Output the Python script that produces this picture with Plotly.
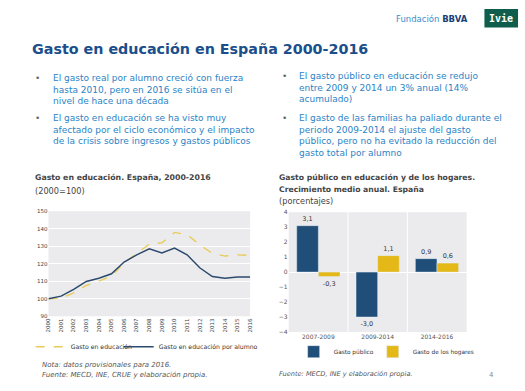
import plotly.graph_objects as go

W, H = 525, 391
def px(x): return x / W
def py(y): return 1 - y / H

years = list(range(2000, 2017))
gasto_educacion = [100, 100.4, 103.4, 107.6, 110.1, 112.9, 120.5, 125.9, 131.2, 132.0,
                   137.9, 136.6, 130.9, 125.9, 124.4, 125.1, 124.7]
gasto_por_alumno = [100, 101.5, 105.4, 109.9, 111.7, 114.3, 121.0, 125.1, 128.6, 126.2,
                    129.0, 125.1, 117.7, 112.7, 111.7, 112.5, 112.5]

periodos = ["2007-2009", "2009-2014", "2014-2016"]
gasto_publico = [3.1, -3.0, 0.9]
gasto_hogares = [-0.3, 1.1, 0.6]

BLUE = "#1f4e79"
YELLOW = "#e3b817"
LINE_BLUE = "#2c4a6e"
LINE_YEL = "#e8cc5a"
FONT = "DejaVu Sans"

fig = go.Figure()

fig.add_trace(go.Scatter(x=years, y=gasto_educacion, mode="lines", name="Gasto en educación",
                         line=dict(color=LINE_YEL, width=1.4, dash="dash"), showlegend=True,
                         xaxis="x", yaxis="y", legend="legend"))
fig.add_trace(go.Scatter(x=years, y=gasto_por_alumno, mode="lines", name="Gasto en educación por alumno",
                         line=dict(color=LINE_BLUE, width=1.5), showlegend=True,
                         xaxis="x", yaxis="y", legend="legend3"))

fmt = lambda v: f"{v:.1f}".replace(".", ",")
fig.add_trace(go.Bar(x=periodos, y=gasto_publico, name="Gasto público", marker_color=BLUE,
                     text=[fmt(v) for v in gasto_publico], textposition="outside",
                     textfont=dict(size=6.5, color="#333"), cliponaxis=False, showlegend=True,
                     xaxis="x2", yaxis="y2", legend="legend2"))
fig.add_trace(go.Bar(x=periodos, y=gasto_hogares, name="Gasto de los hogares", marker_color=YELLOW,
                     text=[fmt(v) for v in gasto_hogares], textposition="outside",
                     textfont=dict(size=6.5, color="#333"), cliponaxis=False, showlegend=True,
                     xaxis="x2", yaxis="y2", legend="legend4"))

PLOT_BG = "#ebebed"

def leg(x, y, size):
    return dict(orientation="h", x=px(x), y=py(y), xanchor="left", yanchor="middle",
                font=dict(size=size, color="#333"), bgcolor="rgba(0,0,0,0)",
                itemwidth=30, tracegroupgap=0, visible=True)

fig.update_layout(
    width=W, height=H, margin=dict(l=0, r=0, t=0, b=0),
    paper_bgcolor="white", plot_bgcolor=PLOT_BG,
    font=dict(family=FONT, color="#444"),
    showlegend=True,
    barmode="group", bargap=0.27, bargroupgap=0,
    separators=",.",
    xaxis=dict(domain=[px(46), px(250)], anchor="y", range=[2000, 2016],
               tickvals=years, ticktext=[str(y) for y in years], tickangle=-90,
               tickfont=dict(size=5.5, color="#444"), showgrid=False, zeroline=False,
               showline=False, ticks=""),
    yaxis=dict(domain=[py(318), py(211)], anchor="x", range=[90, 150], dtick=10,
               tickfont=dict(size=5.5, color="#444"), gridcolor="white", gridwidth=1,
               zeroline=False, showline=False, ticks=""),
    xaxis2=dict(domain=[px(289), px(469)], anchor="y2", showgrid=False,
                tickfont=dict(size=6, color="#555"), showline=False, ticks=""),
    yaxis2=dict(domain=[py(334), py(212)], anchor="x2", range=[-4, 4], dtick=1,
                tickfont=dict(size=6, color="#555"), showgrid=False,
                zeroline=True, zerolinecolor="white", zerolinewidth=1, showline=False, ticks=""),
    legend=leg(28, 349, 6.2),
    legend3=leg(117, 349, 6.2),
    legend2=leg(294, 354, 5.8),
    legend4=leg(374, 354, 5.8),
)

# vertical separators between bar categories
for xv in [0.5, 1.5]:
    fig.add_shape(type="line", xref="x2", yref="y2 domain", x0=xv, x1=xv, y0=0, y1=1,
                  line=dict(color="white", width=1), layer="below")

ann = []
def text(x, y, t, size, color, bold=False, italic=False, xanchor="left", yanchor="middle", family=FONT):
    if bold: t = f"<b>{t}</b>"
    if italic: t = f"<i>{t}</i>"
    ann.append(dict(x=px(x), y=py(y), xref="paper", yref="paper", text=t, showarrow=False,
                    xanchor=xanchor, yanchor=yanchor, align="left",
                    font=dict(size=size, color=color, family=family)))

TITLE_BLUE = "#1b4f8c"
BULLET_BLUE = "#2b83c6"

# header
text(396, 15, "Fundación <b><span style='color:#1a3f7a'>BBVA</span></b>", 8.5, "#3a8ccc")
fig.add_shape(type="rect", xref="paper", yref="paper", x0=px(487), x1=px(521), y0=py(24), y1=py(5),
              fillcolor="#0f5e4d", line=dict(width=0))
text(504, 14.5, "Ivie", 10, "white", bold=True, xanchor="center", family="DejaVu Sans Mono")

# title
text(27, 46, "Gasto en educación en España 2000-2016", 14.3, TITLE_BLUE, bold=True)

# bullets left
text(30, 75, "•", 9, "#666")
text(49, 87, "El gasto real por alumno creció con fuerza<br>hasta 2010, pero en 2016 se sitúa en el<br>nivel de hace una década", 9, BULLET_BLUE)
text(30, 116, "•", 9, "#666")
text(49, 128, "El gasto en educación se ha visto muy<br>afectado por el ciclo económico y el impacto<br>de la crisis sobre ingresos y gastos públicos", 9, BULLET_BLUE)
# bullets right
text(280, 73, "•", 9, "#666")
text(297, 85, "El gasto público en educación se redujo<br>entre 2009 y 2014 un 3% anual (14%<br>acumulado)", 9, BULLET_BLUE)
text(280, 116, "•", 9, "#666")
text(297, 134, "El gasto de las familias ha paliado durante el<br>periodo 2009-2014 el ajuste del gasto<br>público, pero no ha evitado la reducción del<br>gasto total por alumno", 9, BULLET_BLUE)

# chart subtitles
text(30, 177, "Gasto en educación. España, 2000-2016", 7.8, "#444", bold=True)
text(30, 190, "(2000=100)", 8.2, "#444")
text(277, 177, "Gasto público en educación y de los hogares.", 7.7, "#444", bold=True)
text(277, 189, "Crecimiento medio anual. España", 7.7, "#444", bold=True)
text(277, 201, "(porcentajes)", 8.2, "#444")

# notes
text(37, 368, "Nota: datos provisionales para 2016.", 7, "#555", italic=True)
text(37, 378, "Fuente: MECD, INE, CRUE y elaboración propia.", 7, "#555", italic=True)
text(277, 377, "Fuente: MECD, INE y elaboración propia.", 6.6, "#555", italic=True)
text(494, 378, "4", 7, "#888", xanchor="center")

fig.update_layout(annotations=ann)
fig.write_html("out.html", config={"displayModeBar": False},
               post_script="document.body.style.margin='0px';")
